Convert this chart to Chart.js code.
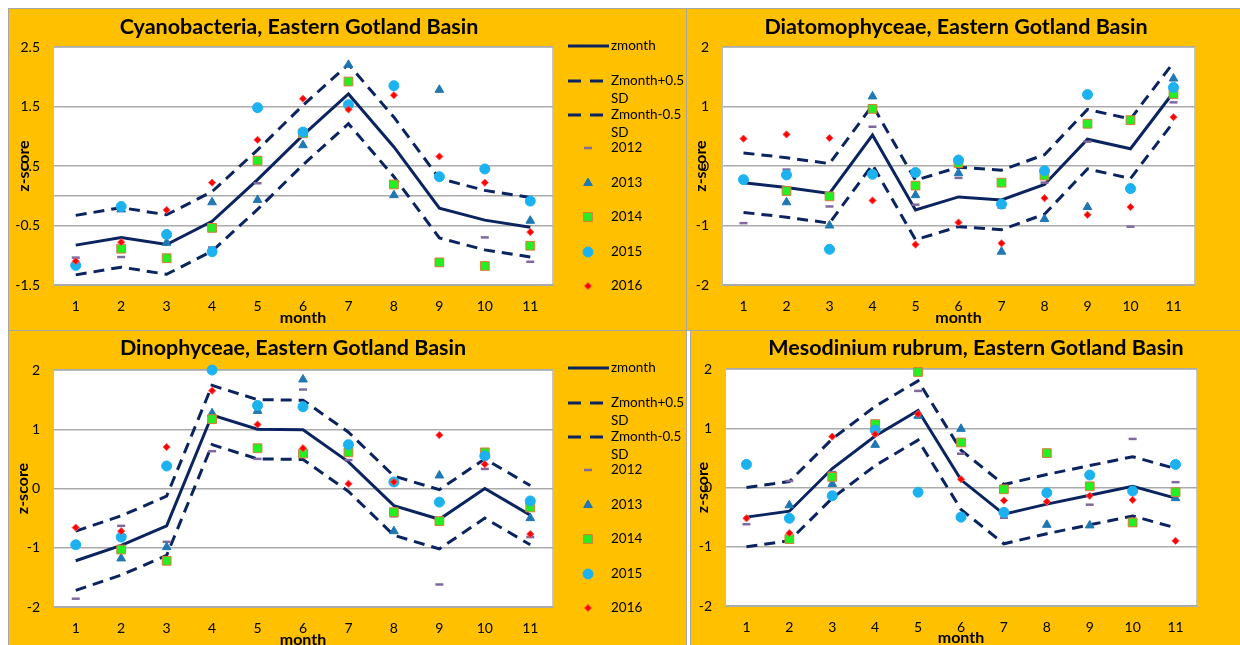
<!DOCTYPE html>
<html>
<head>
<meta charset="utf-8">
<script src="https://cdn.jsdelivr.net/npm/chart.js@4.4.1/dist/chart.umd.min.js"></script>
<style>
  body { margin: 0; background: #fff; width: 1240px; height: 645px; overflow: hidden; position: relative; }
  .panel { position: absolute; box-sizing: border-box; border: 1px solid #A6A6A6; background: #FFC000; }
  .panel canvas { display: block; }
</style>
</head>
<body>
<div class="panel" style="left:8px;top:8px;width:679px;height:323px"><canvas id="c1" width="677" height="321"></canvas></div>
<div class="panel" style="left:686px;top:8px;width:560px;height:323px"><canvas id="c2" width="558" height="321"></canvas></div>
<div class="panel" style="left:8px;top:330px;width:679px;height:330px"><canvas id="c3" width="677" height="328"></canvas></div>
<div class="panel" style="left:690px;top:330px;width:560px;height:330px"><canvas id="c4" width="558" height="328"></canvas></div>
<script>
const months = ['1', '2', '3', '4', '5', '6', '7', '8', '9', '10', '11'];
const seriesNames = ['zmonth', 'Zmonth+0.5 SD', 'Zmonth-0.5 SD', '2012', '2013', '2014', '2015', '2016'];

// Cyanobacteria
const cyanoZ    = [-0.83, -0.70, -0.82, -0.43, 0.27, 1.02, 1.71, 0.82, -0.21, -0.41, -0.53];
const cyanoUp   = [-0.33, -0.20, -0.32, 0.07, 0.77, 1.52, 2.21, 1.32, 0.29, 0.09, -0.03];
const cyanoLo   = [-1.33, -1.20, -1.32, -0.93, -0.23, 0.52, 1.21, 0.32, -0.71, -0.91, -1.03];
const cyano2012 = [-1.04, -1.03, null, -0.87, 0.21, null, null, null, null, -0.70, -1.11];
const cyano2013 = [null, -0.23, -0.79, -0.11, -0.07, 0.85, 2.20, 0.01, 1.78, null, -0.42];
const cyano2014 = [null, -0.89, -1.05, -0.54, 0.59, 1.05, 1.92, 0.19, -1.12, -1.18, -0.84];
const cyano2015 = [-1.17, -0.18, -0.65, -0.94, 1.48, 1.07, 1.53, 1.85, 0.32, 0.45, -0.09];
const cyano2016 = [-1.10, -0.78, -0.24, 0.22, 0.94, 1.63, 1.45, 1.69, 0.66, 0.22, -0.61];

// Diatomophyceae
const diatomZ    = [-0.28, -0.36, -0.46, 0.52, -0.74, -0.52, -0.57, -0.31, 0.45, 0.29, 1.24];
const diatomUp   = [0.22, 0.14, 0.04, 1.02, -0.24, -0.02, -0.07, 0.19, 0.95, 0.79, 1.74];
const diatomLo   = [-0.78, -0.86, -0.96, 0.02, -1.24, -1.02, -1.07, -0.81, -0.05, -0.21, 0.74];
const diatom2012 = [-0.96, -0.06, -0.68, 0.66, -0.65, -0.20, -0.70, -0.28, 0.41, -1.02, 1.07];
const diatom2013 = [null, -0.61, -1.00, 1.17, -0.49, -0.12, -1.44, -0.89, -0.69, null, 1.47];
const diatom2014 = [null, -0.42, -0.51, 0.96, -0.33, 0.05, -0.28, -0.16, 0.71, 0.77, 1.21];
const diatom2015 = [-0.23, -0.15, -1.40, -0.14, -0.11, 0.10, -0.64, -0.08, 1.20, -0.38, 1.32];
const diatom2016 = [0.46, 0.53, 0.47, -0.58, -1.32, -0.95, -1.30, -0.54, -0.82, -0.69, 0.82];

// Dinophyceae
const dinoZ    = [-1.22, -0.96, -0.63, 1.24, 1.00, 0.99, 0.45, -0.29, -0.52, 0.00, -0.45];
const dinoUp   = [-0.72, -0.46, -0.13, 1.74, 1.50, 1.49, 0.95, 0.21, -0.02, 0.50, 0.05];
const dinoLo   = [-1.72, -1.46, -1.13, 0.74, 0.50, 0.49, -0.05, -0.79, -1.02, -0.50, -0.95];
const dino2012 = [-1.86, -0.63, -0.90, 0.63, 0.50, 1.67, 0.48, -0.47, -1.62, 0.33, -0.82];
const dino2013 = [null, -1.18, -0.99, 1.27, 1.31, 1.84, null, -0.72, 0.22, null, -0.50];
const dino2014 = [null, -1.03, -1.22, 1.17, 0.68, 0.59, 0.61, -0.40, -0.55, 0.61, -0.32];
const dino2015 = [-0.95, -0.82, 0.38, 2.00, 1.40, 1.38, 0.74, 0.11, -0.23, 0.55, -0.21];
const dino2016 = [-0.66, -0.72, 0.70, 1.65, 1.08, 0.68, 0.08, 0.11, 0.90, 0.41, -0.77];

// Mesodinium rubrum
const mesoZ    = [-0.50, -0.40, 0.32, 0.87, 1.30, 0.13, -0.45, -0.28, -0.13, 0.02, -0.18];
const mesoUp   = [0.00, 0.10, 0.82, 1.37, 1.80, 0.63, 0.05, 0.22, 0.37, 0.52, 0.32];
const mesoLo   = [-1.00, -0.90, -0.18, 0.37, 0.80, -0.37, -0.95, -0.78, -0.63, -0.48, -0.68];
const meso2012 = [-0.62, 0.11, 0.26, null, 1.63, 0.57, -0.51, null, -0.29, 0.82, 0.09];
const meso2013 = [null, -0.30, 0.06, 0.72, 1.21, 0.99, null, -0.63, -0.64, null, -0.18];
const meso2014 = [null, -0.87, 0.18, 1.07, 1.95, 0.76, -0.03, 0.58, 0.02, -0.59, -0.08];
const meso2015 = [0.39, -0.52, -0.14, 0.97, -0.08, -0.50, -0.42, -0.09, 0.21, -0.06, 0.39];
const meso2016 = [-0.52, -0.77, 0.86, 0.90, 1.24, 0.14, -0.22, -0.24, -0.14, -0.21, -0.90];

const NAVY = '#0B2460';
const FONT = 'Lato, "Open Sans", sans-serif';

function lineSet(label, data, dash, order) {
  return {
    label, data, order,
    borderColor: NAVY, borderWidth: 3, borderDash: dash,
    pointRadius: 0, fill: false, tension: 0, clip: false
  };
}

function markSet(label, data, style, radius, bg, border, bw, order) {
  return {
    label, data, order, showLine: false, clip: false,
    pointStyle: style, pointRadius: radius, pointHoverRadius: radius,
    pointBackgroundColor: bg, pointBorderColor: border, pointBorderWidth: bw,
    backgroundColor: bg, borderColor: border
  };
}

function buildDatasets(z, up, lo, y12, y13, y14, y15, y16) {
  return [
    lineSet(seriesNames[0], z, [], 10),
    lineSet(seriesNames[1], up, [11, 7], 9),
    lineSet(seriesNames[2], lo, [11, 7], 8),
    markSet(seriesNames[3], y12, 'line', 4, '#7F6AA0', '#7F6AA0', 2.5, 5),
    markSet(seriesNames[4], y13, 'triangle', 5, '#1F78B4', '#1F78B4', 1, 4),
    markSet(seriesNames[5], y14, 'rect', 6.2, '#22F022', '#DC7A3A', 1, 3),
    markSet(seriesNames[6], y15, 'circle', 5, '#1CB2F0', '#1CB2F0', 1, 2),
    markSet(seriesNames[7], y16, 'rectRot', 3.6, '#FF0000', '#FF5A5A', 1, 1)
  ];
}

// legend rows (canvas y), second line for the SD entries
const legendRows = [37, 72, 106, 139, 174, 208, 243, 277];

function drawLegend(chart) {
  const ctx = chart.ctx;
  const ds = chart.data.datasets;
  ctx.save();
  ctx.font = '13.5px ' + FONT;
  ctx.textBaseline = 'middle';
  ctx.textAlign = 'left';
  ds.forEach((d, i) => {
    const y = legendRows[i];
    if (i < 3) {
      ctx.strokeStyle = d.borderColor;
      ctx.lineWidth = 3;
      ctx.setLineDash(i === 0 ? [] : [13, 9]);
      ctx.beginPath();
      ctx.moveTo(559, y);
      ctx.lineTo(i === 0 ? 600 : 603, y);
      ctx.stroke();
      ctx.setLineDash([]);
    } else {
      ctx.fillStyle = d.pointBackgroundColor;
      ctx.strokeStyle = d.pointBorderColor;
      ctx.lineWidth = d.pointBorderWidth;
      Chart.helpers.drawPoint(ctx, {
        pointStyle: d.pointStyle, radius: d.pointRadius, rotation: 0, borderWidth: d.pointBorderWidth
      }, 579, y);
    }
    ctx.fillStyle = '#000';
    const parts = d.label.split(' SD');
    ctx.fillText(parts[0], 602, y);
    if (parts.length > 1) ctx.fillText('SD', 602, y + 18);
  });
  ctx.restore();
}

const decor = {
  id: 'decor',
  beforeDraw(chart, args, o) {
    const { ctx, chartArea: a } = chart;
    ctx.save();
    ctx.fillStyle = '#FFC000';
    ctx.fillRect(0, 0, chart.width, chart.height);
    ctx.fillStyle = '#FFFFFF';
    ctx.fillRect(a.left, a.top, a.right - a.left, a.bottom - a.top);
    ctx.strokeStyle = '#C8C8C8';
    ctx.lineWidth = 1;
    ctx.strokeRect(a.left + 0.5, a.top + 0.5, a.right - a.left - 1, a.bottom - a.top - 1);
    ctx.fillStyle = '#000';
    ctx.font = 'bold 21.5px ' + FONT;
    ctx.textAlign = 'center';
    ctx.textBaseline = 'middle';
    ctx.fillText(o.title, o.titleX, o.titleY);
    ctx.restore();
  },
  afterDraw(chart, args, o) {
    if (o.legend) drawLegend(chart);
  }
};

function makeChart(id, cfg) {
  const yTitlePad = cfg.yTitleX - 9.6;
  const xTitlePad = cfg.xTitleOff - 9.6;
  return new Chart(document.getElementById(id), {
    type: 'line',
    data: { labels: months, datasets: cfg.datasets },
    plugins: [decor],
    options: {
      responsive: false,
      animation: false,
      events: [],
      layout: { padding: { left: 0, top: cfg.top, right: cfg.right, bottom: cfg.bottom } },
      plugins: {
        legend: { display: false },
        tooltip: { enabled: false },
        decor: { title: cfg.title, titleX: cfg.titleX, titleY: cfg.titleY, legend: cfg.legend }
      },
      scales: {
        x: {
          type: 'category',
          offset: true,
          grid: { display: false },
          border: { display: true, color: '#ABABAB', width: 1 },
          ticks: { color: '#000', padding: 5, font: { family: FONT, size: 14 }, maxRotation: 0 },
          title: { display: true, text: 'month', color: '#000', padding: { top: 0, bottom: xTitlePad }, font: { family: FONT, size: 16, weight: 'bold' } },
          afterFit: s => { s.height = 45; }
        },
        y: {
          min: cfg.min, max: cfg.max,
          ticks: {
            stepSize: 1, color: '#000', padding: 13,
            font: { family: FONT, size: 14 },
            callback: v => (cfg.hideZero && v === 0) ? '' : String(v)
          },
          afterBuildTicks: s => {
            if (!s.ticks.some(t => t.value === 0)) {
              s.ticks.push({ value: 0 });
              s.ticks.sort((p, q) => p.value - q.value);
            }
          },
          grid: { color: '#ABABAB', lineWidth: 1.5, drawTicks: false },
          border: { display: true, color: '#BDBDBD', width: 1 },
          title: { display: true, text: 'z-score', color: '#000', padding: { top: yTitlePad, bottom: 0 }, font: { family: FONT, size: 16, weight: 'bold' } },
          afterFit: s => { s.width = cfg.yWidth; }
        }
      }
    }
  });
}

makeChart('c1', {
  datasets: buildDatasets(cyanoZ, cyanoUp, cyanoLo, cyano2012, cyano2013, cyano2014, cyano2015, cyano2016),
  title: 'Cyanobacteria, Eastern Gotland Basin', titleX: 290, titleY: 18,
  min: -1.5, max: 2.5, hideZero: true, legend: true,
  top: 38, right: 133, bottom: 0, yWidth: 44, yTitleX: 15, xTitleOff: 12
});

makeChart('c2', {
  datasets: buildDatasets(diatomZ, diatomUp, diatomLo, diatom2012, diatom2013, diatom2014, diatom2015, diatom2016),
  title: 'Diatomophyceae, Eastern Gotland Basin', titleX: 269, titleY: 18,
  min: -2, max: 2, hideZero: false, legend: false,
  top: 38, right: 50, bottom: 0, yWidth: 35, yTitleX: 14, xTitleOff: 12
});

makeChart('c3', {
  datasets: buildDatasets(dinoZ, dinoUp, dinoLo, dino2012, dino2013, dino2014, dino2015, dino2016),
  title: 'Dinophyceae, Eastern Gotland Basin', titleX: 284, titleY: 17,
  min: -2, max: 2, hideZero: false, legend: true,
  top: 39, right: 133, bottom: 7, yWidth: 44, yTitleX: 14, xTitleOff: 12
});

makeChart('c4', {
  datasets: buildDatasets(mesoZ, mesoUp, mesoLo, meso2012, meso2013, meso2014, meso2015, meso2016),
  title: 'Mesodinium rubrum, Eastern Gotland Basin', titleX: 285, titleY: 17,
  min: -2, max: 2, hideZero: false, legend: false,
  top: 38, right: 52, bottom: 8, yWidth: 34, yTitleX: 12, xTitleOff: 13
});
</script>
</body>
</html>
